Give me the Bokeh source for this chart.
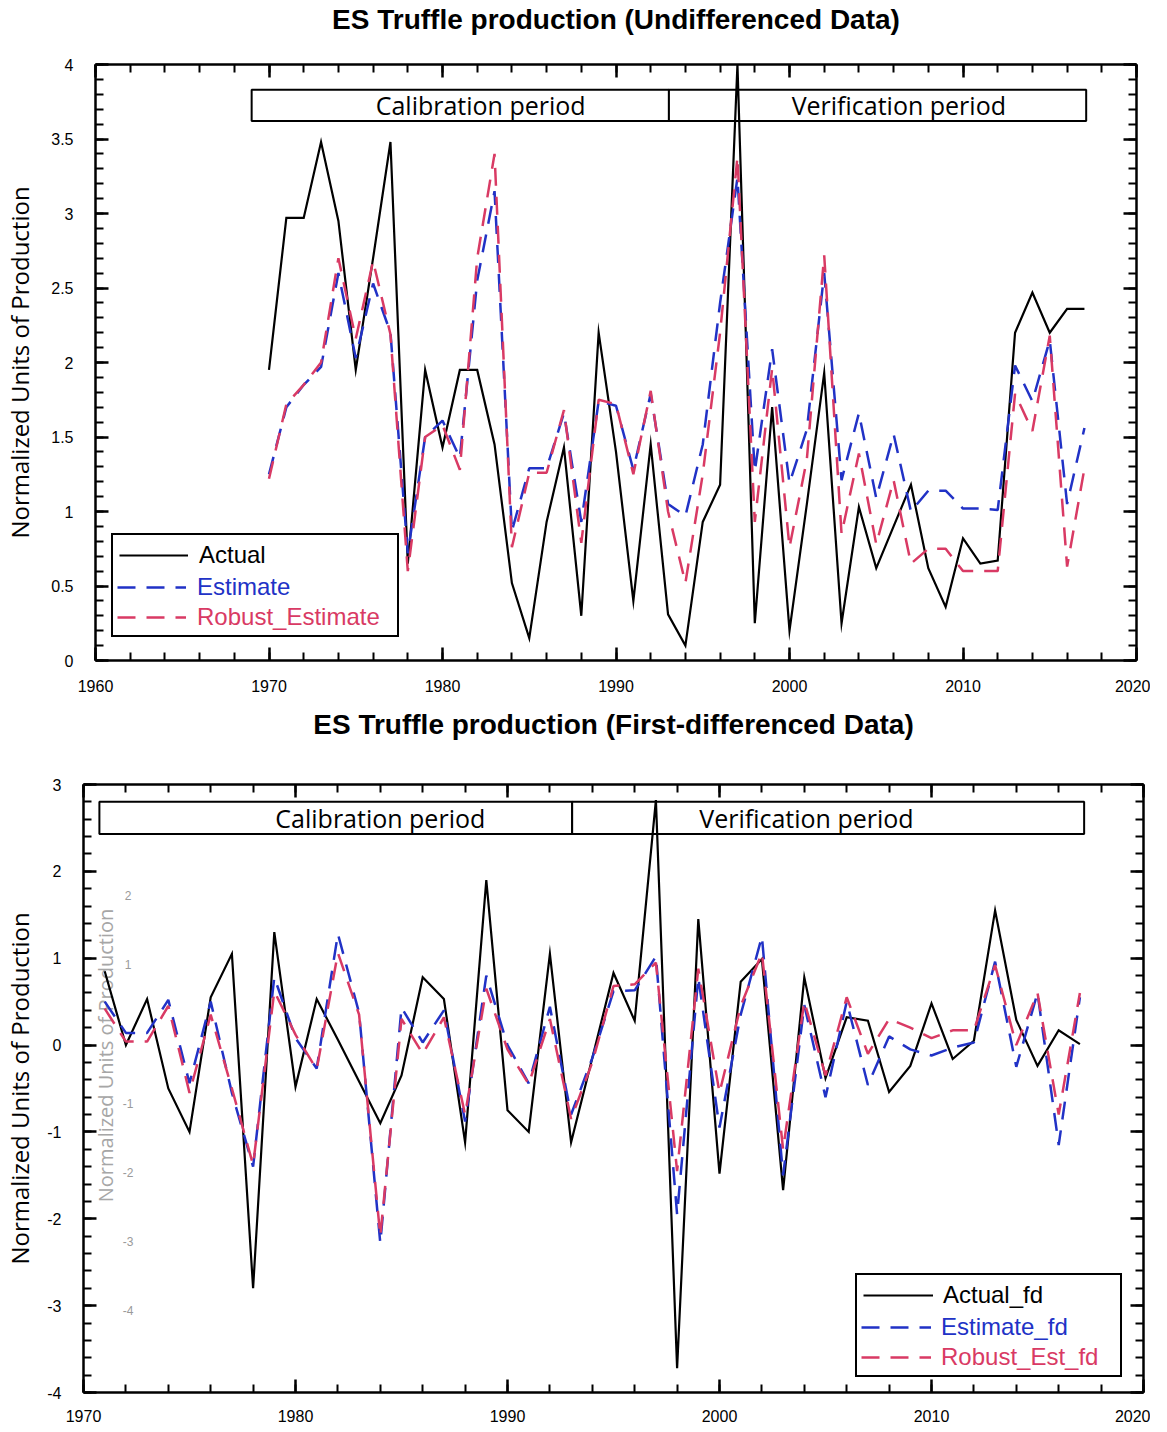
from bokeh.plotting import figure
from bokeh.models import (ColumnDataSource, Range1d, LinearAxis, SingleIntervalTicker,
                          Legend, LegendItem)
from bokeh.core.properties import value
from bokeh.embed import file_html
from bokeh.resources import INLINE

# ---------------- data: undifferenced ----------------
years_top = list(range(1970, 2018))
actual = [1.95, 2.97, 2.97, 3.48, 2.95, 1.95, 2.7, 3.48, 0.65, 1.95,
          1.43, 1.95, 1.95, 1.45, 0.52, 0.15, 0.93, 1.43, 0.30, 2.2,
          1.40, 0.40, 1.45, 0.31, 0.10, 0.93, 1.18, 4.0, 0.25, 1.70,
          0.20, 1.05, 1.93, 0.25, 1.03, 0.62, 0.9, 1.18, 0.62, 0.36,
          0.82, 0.65, 0.67, 2.2, 2.47, 2.2, 2.36, 2.36]
estimate = [1.25, 1.70, 1.85, 1.97, 2.6, 2.03, 2.53, 2.2, 0.72, 1.5,
            1.61, 1.36, 2.55, 3.15, 0.87, 1.29, 1.29, 1.66, 0.93, 1.74,
            1.71, 1.28, 1.79, 1.05, 0.97, 1.45, 2.4, 3.24, 1.27, 2.09,
            1.19, 1.55, 2.6, 1.21, 1.66, 1.09, 1.52, 1.0, 1.14, 1.14,
            1.02, 1.02, 1.01, 1.98, 1.74, 2.15, 1.05, 1.56]
robust_estimate = [1.22, 1.72, 1.85, 2.0, 2.7, 2.16, 2.68, 2.19, 0.6, 1.5,
                   1.58, 1.28, 2.7, 3.4, 0.76, 1.26, 1.26, 1.68, 0.79, 1.75,
                   1.72, 1.25, 1.81, 1.0, 0.52, 1.25, 2.2, 3.38, 0.93, 1.96,
                   0.76, 1.35, 2.72, 0.85, 1.39, 0.78, 1.21, 0.65, 0.75, 0.75,
                   0.6, 0.6, 0.6, 1.79, 1.54, 2.18, 0.63, 1.29]

# ---------------- data: first-differenced ----------------
years_fd = list(range(1971, 2018))
actual_fd = [0.85, 0.0, 0.53, -0.5, -1.0, 0.55, 1.05, -2.8, 1.3,
             -0.48, 0.53, 0.06, -0.42, -0.9, -0.35, 0.78, 0.53, -1.12, 1.9,
             -0.75, -1.0, 1.05, -1.12, -0.15, 0.83, 0.28, 2.82, -3.72, 1.45,
             -1.48, 0.73, 0.99, -1.67, 0.78, -0.38, 0.32, 0.28, -0.54, -0.24,
             0.48, -0.16, 0.05, 1.55, 0.29, -0.24, 0.17, 0.01]
estimate_fd = [0.5, 0.14, 0.14, 0.52, -0.44, 0.5, -0.55, -1.4, 0.78,
               0.08, -0.27, 1.28, 0.37, -2.28, 0.43, 0.03, 0.4, -0.88, 0.8,
               0.0, -0.44, 0.44, -0.8, -0.15, 0.62, 0.63, 1.02, -1.95, 0.78,
               -0.95, 0.35, 1.25, -1.5, 0.46, -0.6, 0.5, -0.46, 0.1, -0.05,
               -0.12, -0.03, 0.03, 0.96, -0.25, 0.6, -1.15, 0.55]
robust_est_fd = [0.42, 0.04, 0.04, 0.45, -0.55, 0.35, -0.5, -1.38, 0.62,
                 0.12, -0.28, 1.06, 0.35, -2.2, 0.3, -0.1, 0.32, -0.8, 0.65,
                 -0.05, -0.45, 0.3, -0.85, -0.2, 0.68, 0.7, 0.95, -1.45, 0.88,
                 -0.55, 0.45, 1.06, -1.2, 0.5, -0.35, 0.55, -0.1, 0.3, 0.2,
                 0.08, 0.17, 0.17, 0.92, 0.0, 0.6, -0.8, 0.6]

# ---------------- periods ----------------
period_names = ["Calibration period", "Verification period"]
top_period_start = [1969.0, 1993.05]
top_period_end = [1993.05, 2017.1]
top_period_label_x = [1982.2, 2006.3]
fd_period_start = [1970.75, 1993.05]
fd_period_end = [1993.05, 2017.2]
fd_period_label_x = [1984.0, 2004.1]

# ---------------- tick labels ----------------
top_x_ticks = [1960, 1970, 1980, 1990, 2000, 2010, 2020]
top_y_ticks = [0, 0.5, 1, 1.5, 2, 2.5, 3, 3.5, 4]
top_y_labels = ["0", "0.5", "1", "1.5", "2", "2.5", "3", "3.5", "4"]
fd_x_ticks = [1970, 1980, 1990, 2000, 2010, 2020]
fd_y_ticks = [-4, -3, -2, -1, 0, 1, 2, 3]
fd_y_labels = ["-4", "-3", "-2", "-1", "0", "1", "2", "3"]

# faint overlaid (ghost) axis in the lower panel
ghost_values = [2, 1, -1, -2, -3, -4]
ghost_labels = ["2", "1", "-1", "-2", "-3", "-4"]

BLUE = "#2132c6"
RED = "#d93a64"
DASH = "18 11"
TICK_FONT = "Liberation Sans"


def style_axes(p, xint, yint, x_ticks, y_ticks, y_labels, x_standoff, y_standoff,
               ylab_standoff, top_gap):
    below = p.below[0]
    left = p.left[0]
    xt = SingleIntervalTicker(interval=xint, num_minor_ticks=5)
    yt = SingleIntervalTicker(interval=yint, num_minor_ticks=5)
    below.ticker = xt
    left.ticker = yt
    above = LinearAxis(ticker=xt)
    right = LinearAxis(ticker=yt)
    p.add_layout(above, "above")
    p.add_layout(right, "right")
    for ax in [below, left, above, right]:
        ax.axis_line_width = 2.5
        ax.axis_line_color = "black"
        ax.major_tick_in = 13
        ax.major_tick_out = 0
        ax.minor_tick_in = 8
        ax.minor_tick_out = 0
        ax.major_tick_line_width = 2.5
        ax.minor_tick_line_width = 2
        ax.major_tick_line_color = "black"
        ax.minor_tick_line_color = "black"
        ax.major_label_text_font = TICK_FONT
        ax.major_label_text_font_size = "16px"
        ax.major_label_text_color = "black"
    # frame-only axes on the top and right: blank labels
    above.major_label_overrides = {t: " " for t in x_ticks}
    right.major_label_overrides = {t: " " for t in y_ticks}
    above.major_label_text_font_size = "10px"
    right.major_label_text_font_size = "10px"
    right.major_label_standoff = 0
    above.major_label_standoff = top_gap
    below.major_label_standoff = x_standoff
    left.major_label_standoff = y_standoff
    left.major_label_overrides = {t: s for t, s in zip(y_ticks, y_labels)}
    left.axis_label = "Normalized Units of Production"
    left.axis_label_text_font = "Open Sans"
    left.axis_label_text_font_size = "24px"
    left.axis_label_text_font_style = "normal"
    left.axis_label_text_color = "black"
    left.axis_label_standoff = ylab_standoff
    p.xgrid.visible = False
    p.ygrid.visible = False
    p.outline_line_color = None


def style_title(p):
    p.title.text_font = "Liberation Sans"
    p.title.text_font_size = "28px"
    p.title.text_font_style = "bold"
    p.title.align = "center"
    p.title.text_color = "black"
    p.title.standoff = 0


def add_legend(p, renderers, labels, colors, loc, glyph_w, standoff, label_w):
    P, H, S = 6, 28, 2
    common = dict(padding=P, spacing=S, glyph_width=glyph_w, glyph_height=H,
                  label_height=H, label_width=label_w, label_standoff=standoff,
                  label_text_font=TICK_FONT, label_text_font_size="24px",
                  margin=0)
    base = Legend(items=[LegendItem(label=l, renderers=[r]) for l, r in zip(labels, renderers)],
                  location=loc, border_line_color="black", border_line_width=2,
                  border_line_alpha=1,
                  background_fill_color="white", background_fill_alpha=1,
                  label_text_color=colors[0], **common)
    p.add_layout(base)
    n = len(labels)
    for i in range(1, n):
        c = dict(common)
        c["padding"] = 0
        y = loc[1] + P + (n - 1 - i) * (H + S)
        lg = Legend(items=[LegendItem(label=labels[i], renderers=[renderers[i]])],
                    location=(loc[0] + P, y), border_line_color=None,
                    background_fill_color="white", background_fill_alpha=1,
                    label_text_color=colors[i], **c)
        p.add_layout(lg)


# ================= top figure =================
p1 = figure(width=1150, height=703, x_range=Range1d(1960, 2020), y_range=Range1d(0, 4),
            title="ES Truffle production (Undifferenced Data)",
            output_backend="svg", toolbar_location=None,
            min_border_left=94, min_border_right=14, min_border_top=64, min_border_bottom=43)
style_title(p1)
style_axes(p1, 10, 0.5, top_x_ticks, top_y_ticks, top_y_labels, 19, 22, 12, 16)

src_p1 = ColumnDataSource(dict(start=top_period_start, end=top_period_end,
                               name=period_names, lx=top_period_label_x))
p1.quad(left="start", right="end", bottom=3.62, top=3.83, source=src_p1,
        fill_color="white", line_color="black", line_width=2)
p1.text(x="lx", y=3.725, text="name", source=src_p1, text_align="center",
        text_baseline="middle", text_font=value("Open Sans"), text_font_size="25px",
        text_color="black")

r1a = p1.line(years_top, actual, line_color="black", line_width=2.2, line_join="miter")
r1b = p1.line(years_top, estimate, line_color=BLUE, line_width=2.5, line_dash=DASH)
r1c = p1.line(years_top, robust_estimate, line_color=RED, line_width=2.5, line_dash=DASH)
add_legend(p1, [r1a, r1b, r1c], ["Actual", "Estimate", "Robust_Estimate"],
           ["black", BLUE, RED], (16, 23), 69, 11, 192)

# ================= bottom figure =================
p2 = figure(width=1150, height=727, x_range=Range1d(1970, 2020), y_range=Range1d(-4, 3),
            title="ES Truffle production (First-differenced Data)",
            output_backend="svg", toolbar_location=None,
            min_border_left=83, min_border_right=7, min_border_top=81, min_border_bottom=38)
style_title(p2)
style_axes(p2, 10, 1, fd_x_ticks, fd_y_ticks, fd_y_labels, 17, 22, 8, 31)

# faint ghost axis (overlaid artefact in the source figure)
ghost_y = [0.127 + 0.796 * g for g in ghost_values]
p2.text(x=[1972.1] * len(ghost_values), y=ghost_y, text=ghost_labels,
        text_align="center", text_baseline="middle", text_font=value("Liberation Sans"),
        text_font_size="12px", text_color="#9a9a9a")
p2.text(x=[1971.05], y=[-0.12], text=["Normalized Units of Production"], angle=1.5708,
        text_align="center", text_baseline="middle", text_font=value("Open Sans"),
        text_font_size="20px", text_color="#a6a6a6")

src_p2 = ColumnDataSource(dict(start=fd_period_start, end=fd_period_end,
                               name=period_names, lx=fd_period_label_x))
p2.quad(left="start", right="end", bottom=2.43, top=2.80, source=src_p2,
        fill_color="white", line_color="black", line_width=2)
p2.text(x="lx", y=2.615, text="name", source=src_p2, text_align="center",
        text_baseline="middle", text_font=value("Open Sans"), text_font_size="25px",
        text_color="black")

r2a = p2.line(years_fd, actual_fd, line_color="black", line_width=2.2, line_join="miter")
r2b = p2.line(years_fd, estimate_fd, line_color=BLUE, line_width=2.5, line_dash=DASH)
r2c = p2.line(years_fd, robust_est_fd, line_color=RED, line_width=2.5, line_dash=DASH)
add_legend(p2, [r2a, r2b, r2c], ["Actual_fd", "Estimate_fd", "Robust_Est_fd"],
           ["black", BLUE, RED], (772, 15), 70, 10, 171)

open("out.html", "w").write(file_html([p1, p2], INLINE))
